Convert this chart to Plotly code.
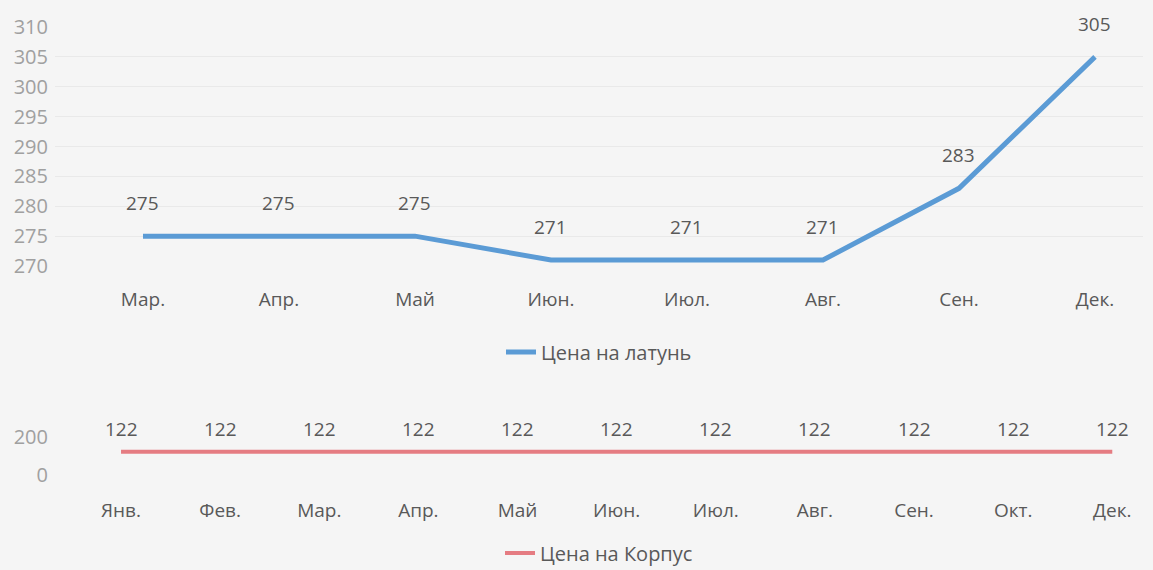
import plotly.graph_objects as go

top_months = ["Мар.", "Апр.", "Май", "Июн.", "Июл.", "Авг.", "Сен.", "Дек."]
brass_price = [275, 275, 275, 271, 271, 271, 283, 305]
top_yticks = [270, 275, 280, 285, 290, 295, 300, 305, 310]

bottom_months = ["Янв.", "Фев.", "Мар.", "Апр.", "Май", "Июн.", "Июл.", "Авг.", "Сен.", "Окт.", "Дек."]
body_price = [122, 122, 122, 122, 122, 122, 122, 122, 122, 122, 122]
bottom_yticks = [0, 200]

FONT = "Open Sans"
BLUE = "#5B9BD5"
RED = "#E57C82"
LABEL = "#595959"
TICK = "#A0A0A0"

fig = go.Figure()
fig.add_trace(go.Scatter(x=list(range(len(top_months))), y=brass_price, mode="lines",
                         line=dict(color=BLUE, width=5), name="Цена на латунь",
                         xaxis="x", yaxis="y", legend="legend", showlegend=True))
fig.add_trace(go.Scatter(x=list(range(len(bottom_months))), y=body_price, mode="lines",
                         line=dict(color=RED, width=4), name="Цена на Корпус",
                         xaxis="x2", yaxis="y2", legend="legend2", showlegend=True))

annotations = []
for i, v in enumerate(brass_price):
    annotations.append(dict(x=i, y=v, xref="x", yref="y", text=str(v), showarrow=False,
                            yshift=33, font=dict(family=FONT, size=19, color=LABEL)))
for i, v in enumerate(body_price):
    annotations.append(dict(x=i, y=v, xref="x2", yref="y2", text=str(v), showarrow=False,
                            yshift=23, font=dict(family=FONT, size=19, color=LABEL)))

fig.update_layout(
    width=1153, height=570,
    showlegend=True,
    margin=dict(l=55, r=10, t=0, b=0, autoexpand=False),
    paper_bgcolor="#F5F5F5", plot_bgcolor="#F5F5F5",
    font=dict(family=FONT, size=19, color=LABEL),
    annotations=annotations,
    xaxis=dict(domain=[0, 1], anchor="y", range=[-0.647, 7.353],
               tickvals=list(range(len(top_months))), ticktext=top_months,
               showgrid=False, zeroline=False, showline=False, ticks="",
               ticklabelstandoff=20, tickfont=dict(family=FONT, size=19, color=LABEL)),
    yaxis=dict(domain=[1 - 266 / 570, 1 - 27 / 570], anchor="x", range=[270, 310],
               tickvals=top_yticks, showgrid=True, gridcolor="#E9E9E9", zeroline=False,
               ticks="", ticklabelstandoff=6,
               tickfont=dict(family=FONT, size=20, color=TICK)),
    xaxis2=dict(domain=[0, 1], anchor="y2", range=[-0.666, 10.31],
                tickvals=list(range(len(bottom_months))), ticktext=bottom_months,
                showgrid=False, zeroline=False, showline=False, ticks="",
                ticklabelstandoff=22, tickfont=dict(family=FONT, size=19, color=LABEL)),
    yaxis2=dict(domain=[1 - 475 / 570, 1 - 437 / 570], anchor="x2", range=[0, 200],
                tickvals=bottom_yticks, showgrid=False, zeroline=False,
                ticks="", ticklabelstandoff=6,
                tickfont=dict(family=FONT, size=20, color=TICK)),
    legend=dict(x=0.5, xanchor="center", y=1 - 352 / 570, yanchor="middle",
                orientation="h", bgcolor="rgba(0,0,0,0)",
                font=dict(family=FONT, size=20, color=LABEL)),
    legend2=dict(x=0.5, xanchor="center", y=1 - 553 / 570, yanchor="middle",
                 orientation="h", bgcolor="rgba(0,0,0,0)",
                 font=dict(family=FONT, size=20, color=LABEL)),
)

fig.write_html("out.html", config={"displayModeBar": False},
               post_script="document.body.style.margin='0px';")
